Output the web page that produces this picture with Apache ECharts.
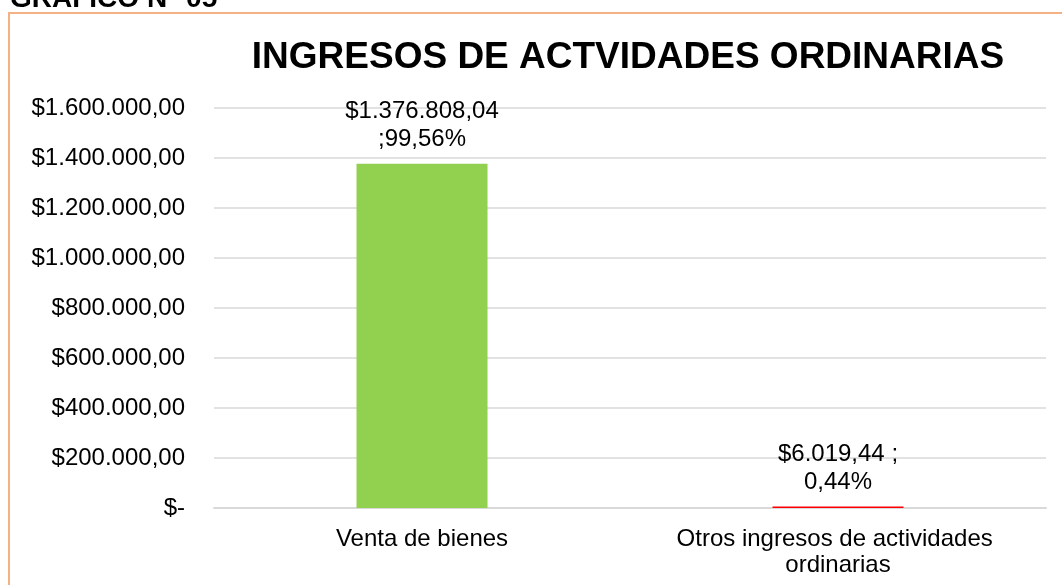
<!DOCTYPE html>
<html>
<head>
<meta charset="utf-8">
<script src="https://cdn.jsdelivr.net/npm/echarts@6/dist/echarts.min.js"></script>
<style>
  html, body { margin: 0; padding: 0; background: #fff; }
  #box { width: 1062px; height: 585px; }
</style>
</head>
<body>
<div id="box"></div>
<script>
const categories = ['Venta de bienes', 'Otros ingresos de actividades ordinarias']
const values = [1376808.04, 6019.44]
const percents = [99.56, 0.44]
// donde cae el salto de línea en cada etiqueta
const labelJoin = ['\n;', ' ;\n']
const colors = ['#92D050', '#FF0000']
const yTicks = { min: 0, max: 1600000, interval: 200000 }

const font = 'Liberation Sans, Arial, sans-serif'

function money (v, dec) {
  const parts = v.toFixed(dec).split('.')
  const ent = parts[0].replace(/\B(?=(\d{3})+(?!\d))/g, '.')
  return ent + ',' + parts[1]
}

const chart = echarts.init(document.getElementById('box'))
chart.setOption({
  animation: false,
  graphic: [
    {
      type: 'rect',
      shape: { x: 9, y: 13, width: 1200, height: 700 },
      style: { fill: 'none', stroke: '#F4B183', lineWidth: 2 }
    },
    {
      type: 'text',
      x: 10,
      y: -15,
      style: { text: 'GRÁFICO N° 05', font: 'bold 28px ' + font, fill: '#000', verticalAlign: 'top' }
    }
  ],
  title: {
    text: 'INGRESOS DE ACTVIDADES ORDINARIAS',
    left: 623,
    top: 34,
    textAlign: 'center',
    textStyle: { fontFamily: font, fontSize: 37, fontWeight: 'bold', color: '#000' }
  },
  grid: { left: 214, right: 16, top: 108, bottom: 77 },
  xAxis: {
    type: 'category',
    data: categories,
    axisLine: { lineStyle: { color: '#D9D9D9', width: 2 } },
    axisTick: { show: false },
    axisLabel: {
      fontFamily: font, fontSize: 24, color: '#000', margin: 18,
      width: 400, overflow: 'break', lineHeight: 26, interval: 0
    }
  },
  yAxis: {
    type: 'value',
    min: yTicks.min,
    max: yTicks.max,
    interval: yTicks.interval,
    axisLine: { show: false },
    axisTick: { show: false },
    splitLine: { lineStyle: { color: '#D9D9D9', width: 1.5 } },
    axisLabel: {
      fontFamily: font, fontSize: 24, color: '#000', margin: 29,
      formatter: v => v === 0 ? '$-' : '$' + money(v, 2)
    }
  },
  series: [{
    type: 'bar',
    barWidth: 131,
    data: values.map((v, i) => ({ value: v, itemStyle: { color: colors[i] } })),
    label: {
      show: true,
      position: 'top',
      distance: 10,
      fontFamily: font,
      fontSize: 24,
      lineHeight: 28,
      color: '#000',
      formatter: p => '$' + money(values[p.dataIndex], 2) + labelJoin[p.dataIndex] +
        percents[p.dataIndex].toFixed(2).replace('.', ',') + '%'
    }
  }]
})
</script>
</body>
</html>
